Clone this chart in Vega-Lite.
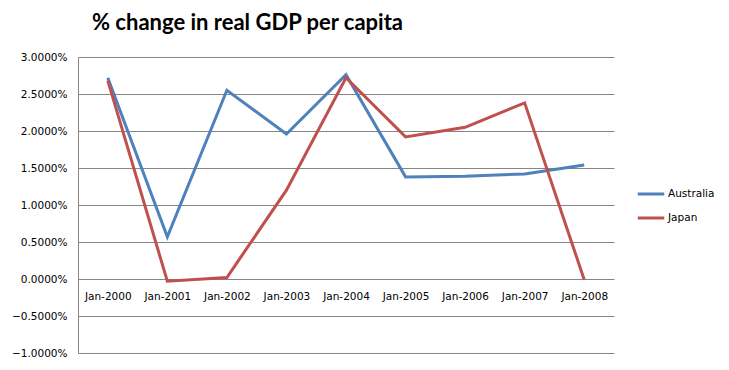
{
  "$schema": "https://vega.github.io/schema/vega-lite/v6.json",
  "autosize": "none",
  "width": 536,
  "height": 296,
  "padding": {"left": 78, "top": 57, "right": 115, "bottom": 17},
  "background": "white",
  "title": {
    "text": "% change in real GDP per capita",
    "anchor": "start",
    "frame": "group",
    "dx": 14,
    "offset": 17,
    "font": "Lato",
    "fontSize": 22,
    "fontWeight": "bold",
    "color": "#000000"
  },
  "data": {
    "values": [
      {"date": "Jan-2000", "country": "Australia", "value": 0.0272},
      {"date": "Jan-2001", "country": "Australia", "value": 0.0057},
      {"date": "Jan-2002", "country": "Australia", "value": 0.0255},
      {"date": "Jan-2003", "country": "Australia", "value": 0.0196},
      {"date": "Jan-2004", "country": "Australia", "value": 0.0276},
      {"date": "Jan-2005", "country": "Australia", "value": 0.0138},
      {"date": "Jan-2006", "country": "Australia", "value": 0.0139},
      {"date": "Jan-2007", "country": "Australia", "value": 0.0142},
      {"date": "Jan-2008", "country": "Australia", "value": 0.0154},
      {"date": "Jan-2000", "country": "Japan", "value": 0.0268},
      {"date": "Jan-2001", "country": "Japan", "value": -0.0003},
      {"date": "Jan-2002", "country": "Japan", "value": 0.0002},
      {"date": "Jan-2003", "country": "Japan", "value": 0.012},
      {"date": "Jan-2004", "country": "Japan", "value": 0.0272},
      {"date": "Jan-2005", "country": "Japan", "value": 0.0192},
      {"date": "Jan-2006", "country": "Japan", "value": 0.0205},
      {"date": "Jan-2007", "country": "Japan", "value": 0.0238},
      {"date": "Jan-2008", "country": "Japan", "value": -0.0001}
    ]
  },
  "mark": {"type": "line", "strokeWidth": 3},
  "encoding": {
    "x": {
      "field": "date",
      "type": "ordinal",
      "sort": null,
      "scale": {"type": "point", "padding": 0.5},
      "axis": {
        "title": null,
        "offset": -74,
        "labelAngle": 0,
        "ticks": false,
        "labelPadding": 12,
        "domain": false,
        "grid": false,
        "labelFont": "DejaVu Sans",
        "labelFontSize": 10.5,
        "labelColor": "#000000"
      }
    },
    "y": {
      "field": "value",
      "type": "quantitative",
      "scale": {"domain": [-0.01, 0.03], "nice": false, "zero": false},
      "axis": {
        "title": null,
        "format": ".4%",
        "values": [-0.01, -0.005, 0, 0.005, 0.01, 0.015, 0.02, 0.025, 0.03],
        "ticks": false,
        "labelPadding": 11,
        "grid": true,
        "gridColor": "#868686",
        "gridOpacity": 1,
        "domainColor": "#868686",
        "labelFont": "DejaVu Sans",
        "labelFontSize": 10.5,
        "labelColor": "#000000"
      }
    },
    "color": {
      "field": "country",
      "type": "nominal",
      "scale": {"domain": ["Australia", "Japan"], "range": ["#4F81BD", "#C0504D"]},
      "legend": {
        "title": null,
        "orient": "none",
        "legendX": 558,
        "legendY": 122,
        "symbolType": "stroke",
        "symbolStrokeWidth": 3,
        "symbolSize": 700,
        "rowPadding": 3,
        "labelOffset": 2,
        "labelFont": "DejaVu Sans",
        "labelFontSize": 10.5,
        "labelColor": "#000000"
      }
    }
  },
  "config": {"view": {"stroke": null}}
}
